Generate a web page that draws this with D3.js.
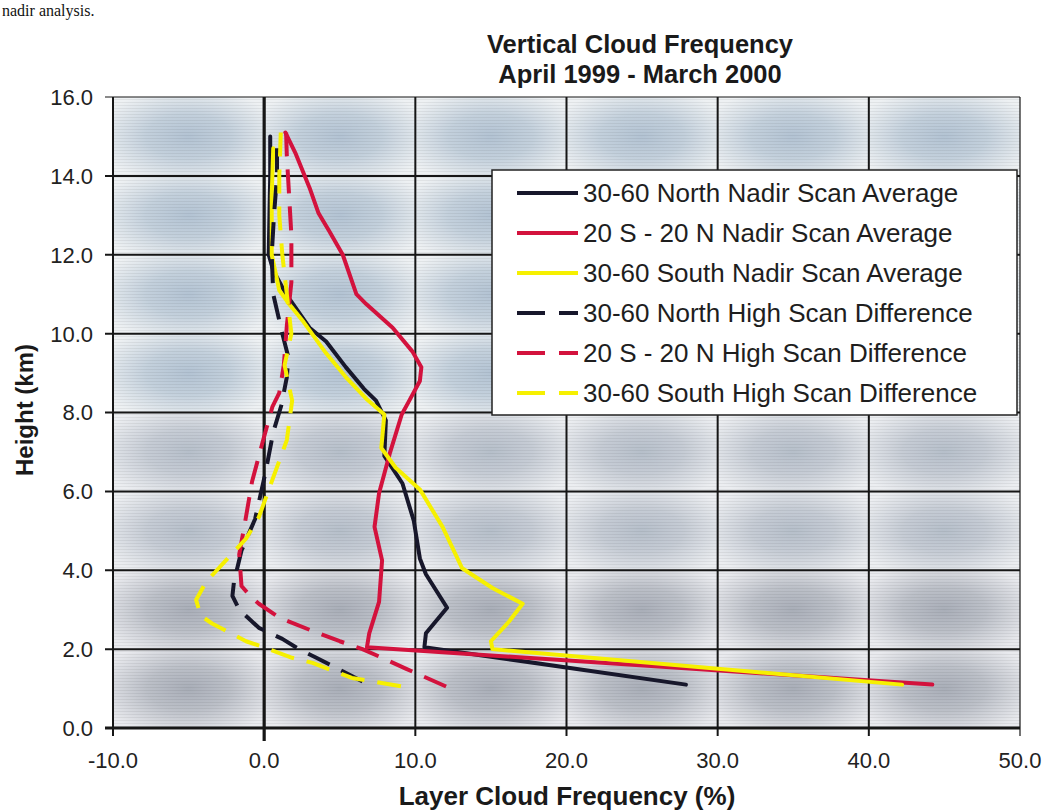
<!DOCTYPE html>
<html><head><meta charset="utf-8">
<script src="https://cdn.jsdelivr.net/npm/d3@7"></script>
<style>
body{margin:0;background:#fff;}
svg{display:block;font-family:"Liberation Sans",Arial,Helvetica,sans-serif;}
</style></head><body>
<svg id="c" width="1052" height="810"></svg>
<script>
// ---------- data (frequency %, height km) ----------
const northNadir = [[0.4,15.0],[0.4,14.0],[0.35,13.0],[0.3,12.0],[0.6,11.6],[1.45,11.0],[3.0,10.15],[4.1,9.8],[5.4,9.15],[6.6,8.6],[7.4,8.3],[8.05,7.8],[7.95,6.9],[9.15,6.2],[9.9,5.25],[10.3,4.3],[10.7,3.9],[12.1,3.05],[10.7,2.4],[10.6,2.05],[27.9,1.1]];
const tropicNadir = [[1.4,15.1],[2.1,14.55],[3.0,13.7],[3.6,13.05],[4.3,12.6],[5.2,12.0],[6.1,11.0],[6.75,10.75],[8.5,10.15],[9.8,9.55],[10.4,9.15],[10.3,8.8],[9.6,8.3],[9.1,7.95],[8.3,6.95],[7.6,5.95],[7.3,5.1],[7.8,4.25],[7.6,3.2],[6.95,2.4],[6.8,2.05],[44.2,1.1]];
const southNadir = [[0.6,14.7],[0.5,13.5],[0.5,12.0],[1.0,11.1],[1.65,10.75],[2.6,10.3],[4.1,9.5],[5.4,8.9],[6.75,8.35],[7.95,7.95],[7.75,7.1],[8.7,6.6],[10.3,6.05],[11.8,5.1],[13.1,4.05],[15.1,3.55],[17.1,3.15],[16.2,2.7],[15.0,2.2],[15.1,2.0],[42.2,1.1]];
const northHighDiff = [[0.85,14.7],[0.85,14.0],[0.65,13.0],[0.5,12.0],[0.6,11.0],[1.2,10.0],[1.6,9.4],[1.5,8.9],[1.15,8.2],[0.6,7.5],[0.1,6.5],[-0.6,5.3],[-1.5,4.5],[-2.0,3.7],[-2.1,3.35],[-1.65,3.0],[-1.0,2.77],[-0.35,2.54],[1.2,2.26],[2.3,2.0],[3.45,1.78],[5.8,1.32],[7.15,1.05]];
const tropicHighDiff = [[1.45,15.1],[1.5,14.5],[1.65,13.5],[1.8,12.5],[1.8,11.3],[1.5,10.2],[1.3,9.2],[1.0,8.5],[0.55,8.15],[-0.1,7.25],[-0.8,6.25],[-1.25,5.25],[-1.65,4.4],[-1.5,3.6],[-0.8,3.3],[-0.35,3.15],[1.0,2.8],[3.2,2.46],[5.0,2.2],[6.5,2.0],[7.8,1.78],[9.4,1.5],[12.05,1.05]];
const southHighDiff = [[1.1,15.1],[1.0,14.0],[1.0,13.0],[1.2,12.0],[1.5,11.0],[1.8,10.0],[1.35,9.2],[1.85,8.3],[1.5,7.3],[0.55,6.3],[-0.35,5.35],[-1.2,4.8],[-2.3,4.35],[-3.85,3.7],[-4.5,3.25],[-4.2,2.85],[-3.45,2.65],[-2.1,2.38],[-1.2,2.2],[0.1,2.03],[1.85,1.78],[3.2,1.65],[5.8,1.27],[9.15,1.05]];

const seriesNames = ["30-60 North Nadir Scan Average","20 S - 20 N Nadir Scan Average","30-60 South Nadir Scan Average","30-60 North High Scan Difference","20 S - 20 N High Scan Difference","30-60 South High Scan Difference"];
const seriesData = [northNadir, tropicNadir, southNadir, northHighDiff, tropicHighDiff, southHighDiff];
const seriesColors = ["#17172b","#d3123d","#f6f000","#17172b","#d3123d","#f6f000"];
const seriesDashed = [false,false,false,true,true,true];

const xTicks = [-10,0,10,20,30,40,50];
const yTicks = [0,2,4,6,8,10,12,14,16];
const titleLines = ["Vertical Cloud Frequency","April 1999 - March 2000"];
const xTitle = "Layer Cloud Frequency (%)";
const yTitle = "Height (km)";
const fmt = d => d3.format(".1f")(d).replace("\u2212","-");

// ---------- layout ----------
const svg = d3.select("#c");
const L = 113, R = 1020, T = 97, B = 728;
const x = d3.scaleLinear().domain([-10,50]).range([L,R]);
const y = d3.scaleLinear().domain([0,16]).range([B,T]);

const defs = svg.append("defs");
function radial(id, c0, c1, c2){
  const g = defs.append("radialGradient").attr("id",id).attr("cx","50%").attr("cy","50%").attr("r","62%");
  g.append("stop").attr("offset","0%").attr("stop-color",c0);
  g.append("stop").attr("offset","45%").attr("stop-color",c1);
  g.append("stop").attr("offset","100%").attr("stop-color",c2);
}
radial("gBlue","#b3c3d3","#c3d0dc","#eef1f3");
radial("gMid","#b6bfca","#c6ccd5","#eceef1");
radial("gGrey","#a9aeb8","#bcc0c8","#e9eaee");
const pat = defs.append("pattern").attr("id","scan").attr("width",6).attr("height",3).attr("patternUnits","userSpaceOnUse");
pat.append("rect").attr("width",6).attr("height",1).attr("fill","#000").attr("opacity",0.06);
defs.append("clipPath").attr("id","plotClip").append("rect").attr("x",L).attr("y",T).attr("width",R-L).attr("height",B-T);

// background cells
const bg = svg.append("g");
bg.append("rect").attr("x",L).attr("y",T).attr("width",R-L).attr("height",B-T).attr("fill","#e6e9ed");
for(let i=0;i<xTicks.length-1;i++){
  for(let j=0;j<yTicks.length-1;j++){
    const h0 = yTicks[j], h1 = yTicks[j+1];
    const fill = h0 >= 8 ? "url(#gBlue)" : (h0 >= 4 ? "url(#gMid)" : "url(#gGrey)");
    bg.append("rect").attr("x",x(xTicks[i])).attr("y",y(h1)).attr("width",x(xTicks[i+1])-x(xTicks[i])).attr("height",y(h0)-y(h1)).attr("fill",fill);
  }
}
bg.append("rect").attr("x",L).attr("y",T).attr("width",R-L).attr("height",B-T).attr("fill","url(#scan)");

// grid
const grid = svg.append("g").attr("stroke","#161616");
grid.selectAll("line.v").data(xTicks).join("line")
  .attr("x1",d=>x(d)).attr("x2",d=>x(d)).attr("y1",T).attr("y2",d=> d===0 ? B+13 : B+8)
  .attr("stroke-width",d=> d===0 ? 3.2 : (d===50 ? 1.2 : 2));
grid.selectAll("line.h").data(yTicks).join("line")
  .attr("x1",L-8).attr("x2",R).attr("y1",d=>y(d)).attr("y2",d=>y(d))
  .attr("stroke-width",d=> d===0 ? 3 : (d===16 ? 1.2 : 2));

// tick labels
svg.append("g").selectAll("text").data(yTicks).join("text")
  .attr("x",93).attr("y",d=>y(d)).attr("dy","0.36em").attr("text-anchor","end")
  .attr("font-size",22).attr("fill","#222").text(fmt);
svg.append("g").selectAll("text").data(xTicks).join("text")
  .attr("x",d=>x(d)).attr("y",768).attr("text-anchor","middle")
  .attr("font-size",22).attr("fill","#222").text(fmt);

// titles
svg.append("text").attr("x",2).attr("y",16).attr("font-family","'Liberation Serif','Times New Roman',serif").attr("font-size",16).attr("fill","#111").text("nadir analysis.");
svg.selectAll("text.title").data(titleLines).join("text").attr("class","title")
  .attr("x",640).attr("y",(d,i)=>53+i*30).attr("text-anchor","middle")
  .attr("font-size",25.5).attr("font-weight","bold").attr("fill","#1a1a1a").text(d=>d);
svg.append("text").attr("x",567).attr("y",805).attr("text-anchor","middle")
  .attr("font-size",26).attr("font-weight","bold").attr("fill","#1a1a1a").text(xTitle);
svg.append("text").attr("transform","translate(33,410) rotate(-90)").attr("text-anchor","middle")
  .attr("font-size",24).attr("font-weight","bold").attr("fill","#1a1a1a").text(yTitle);

// series lines
const line = d3.line().x(d=>x(d[0])).y(d=>y(d[1]));
const lines = svg.append("g").attr("clip-path","url(#plotClip)");
seriesData.forEach((s,i)=>{
  lines.append("path").attr("d",line(s)).attr("fill","none")
    .attr("stroke",seriesColors[i]).attr("stroke-width",4)
    .attr("stroke-linejoin","round").attr("stroke-linecap", seriesDashed[i] ? "butt" : "round")
    .attr("stroke-dasharray", seriesDashed[i] ? "24,13" : null);
});

// legend
const lg = svg.append("g");
lg.append("rect").attr("x",492).attr("y",170).attr("width",525).attr("height",245)
  .attr("fill","#fff").attr("stroke","#222").attr("stroke-width",1.5);
seriesNames.forEach((n,i)=>{
  const yy = 193 + i*40;
  lg.append("line").attr("x1",517).attr("x2",578).attr("y1",yy).attr("y2",yy)
    .attr("stroke",seriesColors[i]).attr("stroke-width",4)
    .attr("stroke-dasharray", seriesDashed[i] ? "28,14" : null);
  lg.append("text").attr("x",583).attr("y",yy).attr("dy","0.36em")
    .attr("font-size",26).attr("fill","#1e1e1e").text(n);
});
</script>
</body></html>
